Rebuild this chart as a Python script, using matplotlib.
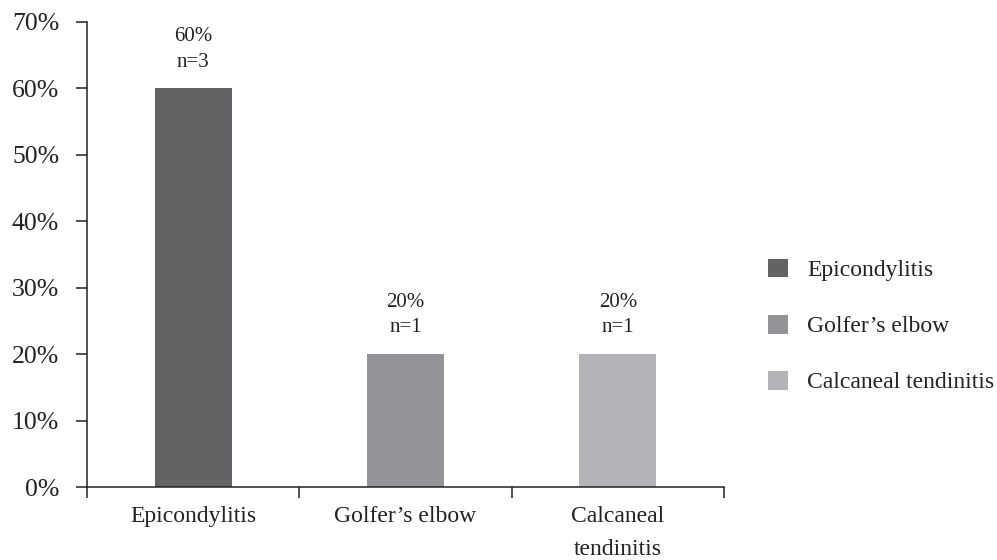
import matplotlib
matplotlib.use("Agg")
import matplotlib.pyplot as plt
from matplotlib.patches import Patch

categories = ["Epicondylitis", "Golfer\u2019s elbow", "Calcaneal\ntendinitis"]
legend_labels = ["Epicondylitis", "Golfer\u2019s elbow", "Calcaneal tendinitis"]
shares = [0.60, 0.20, 0.20]
counts = [3, 1, 1]
colors = ["#636365", "#939498", "#b3b4b8"]
y_ticks = [0.0, 0.1, 0.2, 0.3, 0.4, 0.5, 0.6, 0.7]

plt.rcParams["font.family"] = ["Liberation Serif", "DejaVu Serif"]

fig = plt.figure(figsize=(9.97, 5.6), dpi=100)
ax = fig.add_axes([87 / 997, 1 - 487 / 560, (724 - 87) / 997, (487 - 22) / 560])

x = list(range(len(categories)))
ax.bar(x, shares, width=0.363, color=colors, zorder=2)

for xi, s, n in zip(x, shares, counts):
    ax.annotate(f"{s:.0%}\nn={n}", (xi, s), xytext=(0, 12), textcoords="offset points",
                ha="center", va="bottom", fontsize=15, linespacing=1.45, color="#222222")

ax.set_xlim(-0.5, len(categories) - 0.5)
ax.set_ylim(0, 0.7)
ax.set_yticks(y_ticks)
ax.set_yticklabels([f"{t:.0%}" for t in y_ticks], fontsize=18.5, color="#222222")
ax.tick_params(axis="y", direction="out", length=8, width=1.1, pad=12, color="#222222")

ax.set_xticks(x)
ax.set_xticklabels(categories, fontsize=17, color="#222222", linespacing=1.7, va="top")
ax.tick_params(axis="x", which="major", length=0, pad=14)
ax.set_xticks([i - 0.5 for i in range(len(categories) + 1)], minor=True)
ax.tick_params(axis="x", which="minor", direction="out", length=8, width=1.1, color="#222222")

for side in ("top", "right"):
    ax.spines[side].set_visible(False)
for side in ("left", "bottom"):
    ax.spines[side].set_linewidth(1.1)
    ax.spines[side].set_color("#222222")

handles = [Patch(facecolor=c, edgecolor="none") for c in colors]
fig.legend(handles, legend_labels, loc="center left", bbox_to_anchor=(768 / 997, 1 - 326 / 560),
           frameon=False, fontsize=17, handlelength=0.85, handleheight=0.85,
           handletextpad=0.8, labelspacing=1.42, borderaxespad=0, borderpad=0,
           labelcolor="#222222")

fig.savefig("out.png", dpi=100)
